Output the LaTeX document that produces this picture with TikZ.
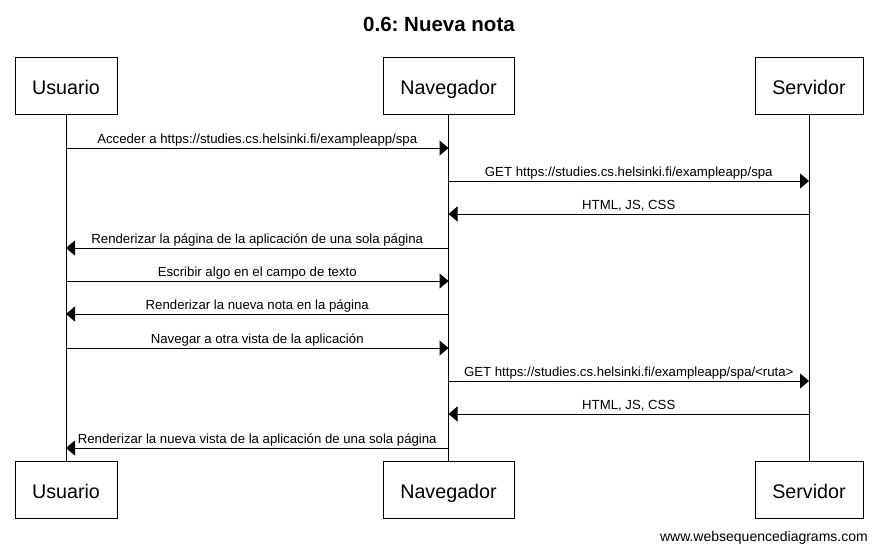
\documentclass[tikz,border=0pt]{standalone}
\usepackage{fontspec}
\setmainfont{Liberation Sans}
\usetikzlibrary{arrows.meta}
\frenchspacing
\tikzset{
  actor/.style={draw=black, line width=1pt, fill=white, inner sep=0pt,
    font=\fontsize{19.7}{22}\selectfont, text height=19pt, text depth=1.4pt},
  lifeline/.style={draw=black, line width=1pt},
  msg/.style={draw=black, line width=1pt, -{Triangle[length=9pt,width=15pt]}},
  msglabel/.style={font=\fontsize{13.2}{15}\selectfont, anchor=base, inner sep=0pt},
}
\begin{document}
\begin{tikzpicture}[x=1pt,y=-1pt]
\useasboundingbox (0,0) rectangle (878,552);
\fill[white] (0,0) rectangle (878,552);
\node[font=\bfseries\fontsize{20.5}{24}\selectfont, anchor=base, inner sep=0pt] (title) at (439,31.7) {0.6: Nueva nota};
% actor boxes top
\node[actor, minimum width=102pt, minimum height=57pt] (ut) at (66,85.5) {Usuario};
\node[actor, minimum width=131pt, minimum height=57pt] (nt) at (448.5,85.5) {Navegador};
\node[actor, minimum width=108pt, minimum height=57pt] (st) at (809,85.5) {Servidor};
% actor boxes bottom
\node[actor, minimum width=102pt, minimum height=57pt] (ub) at (66,489.5) {Usuario};
\node[actor, minimum width=131pt, minimum height=57pt] (nb) at (448.5,489.5) {Navegador};
\node[actor, minimum width=108pt, minimum height=57pt] (sb) at (809,489.5) {Servidor};
% lifelines
\draw[lifeline] (ut.south) -- (ub.north);
\draw[lifeline] (nt.south) -- (nb.north);
\draw[lifeline] (st.south) -- (sb.north);
% message end points on lifelines
\foreach \i/\y in {1/148,2/181,3/214,4/248,5/281,6/314,7/348,8/381,9/414,10/448}{
  \coordinate (u\i) at (66,\y);
  \coordinate (n\i) at (448.5,\y);
  \coordinate (s\i) at (809,\y);
}
\draw[msg] (u1) -- (n1) node[msglabel, pos=0.5, yshift=5pt] (l1) {Acceder a https://studies.cs.helsinki.fi/exampleapp/spa};
\draw[msg] (n2) -- (s2) node[msglabel, pos=0.5, yshift=5pt] (l2) {GET https://studies.cs.helsinki.fi/exampleapp/spa};
\draw[msg] (s3) -- (n3) node[msglabel, pos=0.5, yshift=5pt] (l3) {HTML, JS, CSS};
\draw[msg] (n4) -- (u4) node[msglabel, pos=0.5, yshift=5pt] (l4) {Renderizar la página de la aplicación de una sola página};
\draw[msg] (u5) -- (n5) node[msglabel, pos=0.5, yshift=5pt] (l5) {Escribir algo en el campo de texto};
\draw[msg] (n6) -- (u6) node[msglabel, pos=0.5, yshift=5pt] (l6) {Renderizar la nueva nota en la página};
\draw[msg] (u7) -- (n7) node[msglabel, pos=0.5, yshift=5pt] (l7) {Navegar a otra vista de la aplicación};
\draw[msg] (n8) -- (s8) node[msglabel, pos=0.5, yshift=5pt] (l8) {GET https://studies.cs.helsinki.fi/exampleapp/spa/<ruta>};
\draw[msg] (s9) -- (n9) node[msglabel, pos=0.5, yshift=5pt] (l9) {HTML, JS, CSS};
\draw[msg] (n10) -- (u10) node[msglabel, pos=0.5, yshift=5pt] (l10) {Renderizar la nueva vista de la aplicación de una sola página};
\node[font=\fontsize{14}{16}\selectfont, anchor=base east, inner sep=0pt] (wm) at (868,541.5) {www.websequencediagrams.com};
\end{tikzpicture}
\end{document}
